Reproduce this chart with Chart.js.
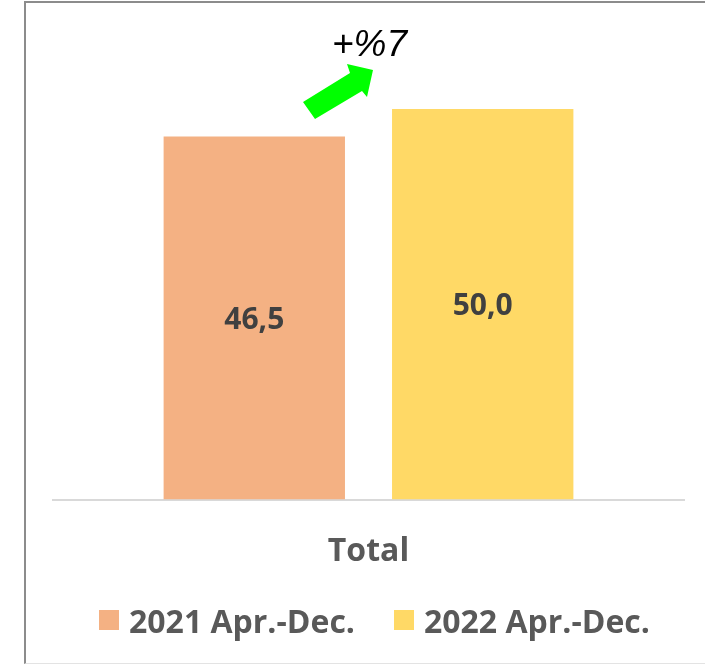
<!DOCTYPE html>
<html>
<head>
<meta charset="utf-8">
<script src="https://cdn.jsdelivr.net/npm/chart.js@4.4.0/dist/chart.umd.min.js"></script>
<style>
html,body{margin:0;padding:0;background:#fff;}
body{width:705px;height:665px;position:relative;overflow:hidden;font-family:"Open Sans",sans-serif;}
#frame{position:absolute;left:24px;top:1px;width:700px;height:663px;border-left:2px solid #8c8c8c;border-top:2px solid #8c8c8c;border-bottom:1px solid #e3e3e3;box-sizing:border-box;}
#c{position:absolute;left:0;top:0;}
#legend{position:absolute;left:99px;top:600px;height:40px;display:flex;align-items:center;font:700 32px "Open Sans";color:#595959;white-space:nowrap;}
.item{display:flex;align-items:center;}
.item + .item{margin-left:39px;}
.box{width:20px;height:20px;margin-right:10px;flex:none;}
</style>
</head>
<body>
<div id="frame"></div>
<canvas id="c" width="705" height="665"></canvas>
<div id="legend"></div>
<script>
// ---- data ----
const categories = ["Total"];
const seriesNames = ["2021 Apr.-Dec.", "2022 Apr.-Dec."];
const values2021 = [46.5];
const values2022 = [50.0];
const seriesColors = ["#F4B183", "#FFD966"];
const changeLabel = "+%7";
const yMin = 0;
const yMax = 60;

function fmt(v){ return v.toFixed(1).replace('.', ','); }

// ---- legend (HTML) ----
const legendEl = document.getElementById('legend');
seriesNames.forEach((name, i) => {
  const it = document.createElement('div'); it.className = 'item';
  const bx = document.createElement('div'); bx.className = 'box'; bx.style.background = seriesColors[i];
  const tx = document.createElement('span'); tx.textContent = name;
  it.appendChild(bx); it.appendChild(tx); legendEl.appendChild(it);
});

// ---- overlay: value labels + arrow annotation ----
const overlay = {
  id: 'overlay',
  afterDatasetsDraw(chart){
    const ctx = chart.ctx;
    ctx.save();
    chart.data.datasets.forEach((ds, i) => {
      const meta = chart.getDatasetMeta(i);
      meta.data.forEach((bar, j) => {
        ctx.font = '700 30px "Open Sans"';
        ctx.fillStyle = '#404040';
        ctx.textAlign = 'center';
        ctx.textBaseline = 'middle';
        ctx.fillText(fmt(ds.data[j]), bar.x, (bar.y + bar.base) / 2 + 2);
      });
    });
    const b1 = chart.getDatasetMeta(0).data[0];
    const b2 = chart.getDatasetMeta(1).data[0];
    const gx = ((b1.x + b1.width / 2) + (b2.x - b2.width / 2)) / 2;
    const gy = b2.y;
    const shape = [[-65.5,-7],[-18.5,-36],[-21.5,-45],[4.5,-39],[-1.5,-12],[-6.5,-18],[-53.5,10]];
    ctx.beginPath();
    shape.forEach((p, k) => { const x = gx + p[0], y = gy + p[1]; if (k) ctx.lineTo(x, y); else ctx.moveTo(x, y); });
    ctx.closePath();
    ctx.fillStyle = '#00FF00';
    ctx.fill();
    ctx.font = 'italic 400 37px "Liberation Sans"';
    ctx.fillStyle = '#000';
    ctx.textAlign = 'center';
    ctx.textBaseline = 'alphabetic';
    ctx.fillText(changeLabel, gx + 1, gy - 53);
    ctx.restore();
  }
};

new Chart(document.getElementById('c'), {
  type: 'bar',
  data: {
    labels: categories,
    datasets: [
      { label: seriesNames[0], data: values2021, backgroundColor: seriesColors[0], categoryPercentage: 0.724, barPercentage: 0.794 },
      { label: seriesNames[1], data: values2022, backgroundColor: seriesColors[1], categoryPercentage: 0.724, barPercentage: 0.794 }
    ]
  },
  options: {
    responsive: false,
    devicePixelRatio: 1,
    animation: false,
    layout: { padding: { left: 53, right: 21, top: 31, bottom: 61 } },
    plugins: { legend: { display: false }, tooltip: { enabled: false } },
    scales: {
      x: {
        grid: { display: false, drawTicks: false },
        border: { display: true, color: '#d9d9d9', width: 2 },
        ticks: { color: '#595959', font: { family: 'Open Sans', weight: '700', size: 32 }, padding: 33 }
      },
      y: { display: false, min: yMin, max: yMax }
    }
  },
  plugins: [overlay]
});
</script>
</body>
</html>
